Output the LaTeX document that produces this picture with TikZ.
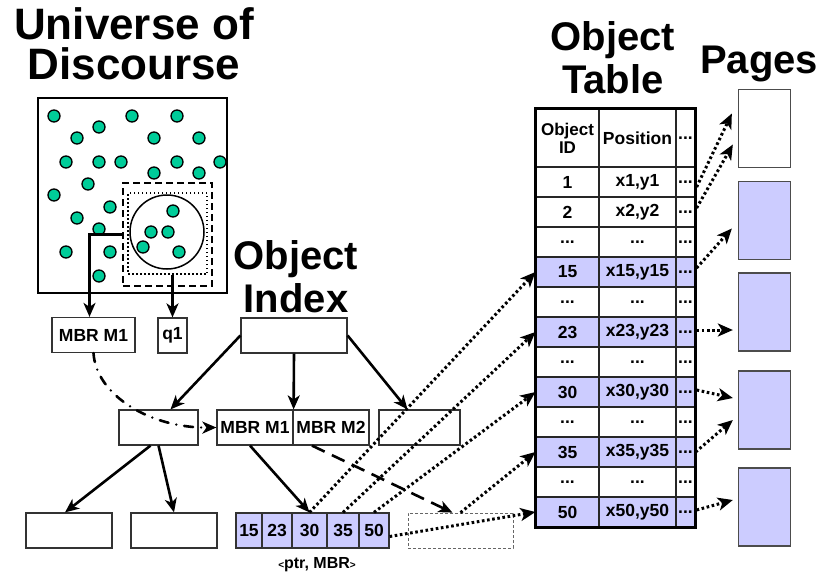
\documentclass[tikz,border=0pt]{standalone}
\usepackage{fontspec}
\setmainfont{Liberation Sans}
\usetikzlibrary{arrows.meta, calc}
\definecolor{objgreen}{HTML}{00CC99}
\definecolor{lav}{HTML}{CCCCFF}
\newcommand\tdots{...}

\begin{document}
\begin{tikzpicture}[x=1pt, y=-1pt,
    title/.style={font=\fontsize{40}{43}\selectfont\bfseries, align=center, inner sep=0},
    box/.style={draw=black!80, line width=1.2pt, font=\fontsize{17.5}{19}\selectfont\bfseries, inner sep=0, minimum height=35},
    cell/.style={draw=black!85, line width=1.2pt, font=\fontsize{17.5}{19}\selectfont\bfseries, inner sep=0, minimum height=30},
    page/.style={draw=black!70, line width=1.3pt, minimum width=52, minimum height=78, inner sep=0},
    arr/.style={line width=2.6pt, -{Stealth[length=14pt, width=12pt, inset=4pt]}},
    dotarr/.style={line width=3pt, dash pattern=on 2.6pt off 2.6pt, -{Stealth[length=15pt, width=13pt, inset=4pt]}},
    obj/.style={draw=black, line width=1.3pt, fill=objgreen}]
    \useasboundingbox (0,0) rectangle (822,576);

    % Titles
    \node[title, font=\fontsize{44}{39.5}\selectfont\bfseries, anchor=base] (uod) at (134,79) {Universe of\\Discourse};
    \node[title, anchor=base] (oidx) at (296,312) {Object\\Index};
    \node[title, anchor=base] (otab) at (613,93) {Object\\Table};
    \node[title, anchor=base] (pgs) at (759,73) {Pages};

    % Universe of discourse
    \node[draw, line width=2pt, minimum width=189, minimum height=195, inner sep=0] (universe) at (132.5,195.5) {};
    \node[draw, line width=1.6pt, dash pattern=on 7pt off 4pt, minimum width=89, minimum height=103, inner sep=0] (mbrbox) at (167.5,234.5) {};
    \node[draw, line width=1.3pt, dash pattern=on 1.5pt off 2.5pt, minimum width=79, minimum height=81, inner sep=0] (qbox) at (167.5,233.5) {};
    \node[circle, draw, line width=1.5pt, minimum size=74, inner sep=0] (qcirc) at (167,232) {};
    \foreach \x/\y in {54/116, 132/116, 177/116, 99/127, 77/138, 154/138, 199/138,
        66/162, 99/162, 121/162, 177/162, 220/162, 154/173, 199/173, 88/184, 54/195,
        110/207, 77/218, 99/229, 66/252, 110/252, 99/276,
        173/211, 151/232, 168/232, 143/247, 179/252}
        \draw[obj] (\x,\y) circle[radius=6pt];

    % Object index
    \node[box, minimum width=83] (mbra) at (93.5,335) {MBR M1};
    \node[box, minimum width=29] (q1) at (172.5,335.5) {q1};
    \node[box, minimum width=106] (root) at (294,335.5) {};
    \node[box, minimum width=79] (nodeL) at (158.5,427.5) {};
    \node[box, minimum width=76] (mbr1) at (255,427.5) {MBR M1};
    \node[box, minimum width=76] (mbr2) at (331,427.5) {MBR M2};
    \node[box, minimum width=81] (nodeR) at (419.5,427.5) {};
    \node[box, minimum width=86] (leafA) at (69,530.5) {};
    \node[box, minimum width=86] (leafB) at (174,530.5) {};
    \node[box, fill=lav, minimum width=26] (leaf15) at (249,530.5) {15};
    \node[box, fill=lav, minimum width=30] (leaf23) at (277,530.5) {23};
    \node[box, fill=lav, minimum width=35] (leaf30) at (309.5,530.5) {30};
    \node[box, fill=lav, minimum width=32] (leaf35) at (343,530.5) {35};
    \node[box, fill=lav, minimum width=30] (leaf50) at (374,530.5) {50};
    \node[box, draw=black!60, line width=0.8pt, dash pattern=on 3pt off 2pt, minimum width=105] (leafD) at (460.5,530.5) {};
    \node[font=\fontsize{16}{18}\selectfont\bfseries, anchor=base] (ptr) at (317,568)
        {{\fontsize{10}{12}\selectfont<}ptr, MBR{\fontsize{10}{12}\selectfont>}};

    % Object table
    \node[cell, minimum width=63, minimum height=58, align=center, font=\fontsize{17}{18}\selectfont\bfseries] (hd-a) at (567.5,138) {Object\\ID};
    \node[cell, minimum width=77, minimum height=58] (hd-b) at (637.5,138) {Position};
    \node[cell, minimum width=19, minimum height=58] (hd-c) at (685.5,138) {...};
    \foreach \id/\pos/\f [count=\r] in {1/{x1,y1}/white, 2/{x2,y2}/white, \tdots/\tdots/white,
        15/{x15,y15}/lav, \tdots/\tdots/white, 23/{x23,y23}/lav, \tdots/\tdots/white,
        30/{x30,y30}/lav, \tdots/\tdots/white, 35/{x35,y35}/lav, \tdots/\tdots/white,
        50/{x50,y50}/lav} {
        \node[cell, fill=\f, minimum width=63] (r\r-a) at (567.5,152+30*\r) {\id};
        \node[cell, fill=\f, minimum width=77] (r\r-b) at (637.5,152+30*\r) {\pos};
        \node[cell, fill=\f, minimum width=19] (r\r-c) at (685.5,152+30*\r) {...};
    }
    \draw[line width=2.6pt] (hd-a.north west) rectangle (r12-c.south east);

    % Pages
    \node[page] (pg1) at (764.5,128.5) {};
    \node[page, fill=lav] (pg2) at (764.5,220.5) {};
    \node[page, fill=lav] (pg3) at (764.5,312) {};
    \node[page, fill=lav] (pg4) at (764.5,410) {};
    \node[page, fill=lav] (pg5) at (764.5,507) {};

    % MBR and query
    \draw[arr] (mbrbox.west) -| ($(mbra.north)+(-4,0)$);
    \draw[arr] (qbox.south -| q1.north) -- (q1.north);

    % Tree
    \draw[arr] (root.west) -- ($(nodeL.north)+(12,0)$);
    \draw[arr] (root.south) -- (mbr1.north east);
    \draw[arr] (root.east) -- ($(nodeR.north)+(-12,0)$);
    \draw[arr] ($(nodeL.south)+(-8,0)$) -- ($(leafA.north)+(-4,0)$);
    \draw[arr] (nodeL.south) -- (leafB.north);
    \draw[arr] ($(mbr1.south)+(-5,0)$) -- (leaf30.north);
    \draw[arr, dash pattern=on 14pt off 8pt] ($(mbr2.south)+(-19,0)$) -- ($(leafD.north)+(-8,0)$);
    \draw[arr, line cap=round, dash pattern=on 9pt off 8pt on 0pt off 8pt] (mbra.south) .. controls (96,395) and (150,428) .. (mbr1.west);

    % Pointers into the table
    \draw[dotarr] (leaf30.north) -- (r4-a.west);
    \draw[dotarr] (leaf35.north) -- (r6-a.west);
    \draw[dotarr] (leaf50.north) -- (r8-a.west);
    \draw[dotarr] (leafD.north) -- (r10-a.west);
    \draw[dotarr] ($(leaf50.east)+(0,6)$) -- (r12-a.west);

    % Table to pages
    \draw[dotarr] ($(r1-c.east)+(1,5)$) -- ($(pg1.west)+(-6,-15)$);
    \draw[dotarr] ($(r2-c.east)+(1,-4)$) -- ($(pg1.west)+(-5,16)$);
    \draw[dotarr] ($(r4-c.east)+(1,-4)$) -- ($(pg2.west)+(-6,8)$);
    \draw[dotarr] ($(r6-c.east)+(1,-2)$) -- ($(pg3.west)+(-5,18)$);
    \draw[dotarr] ($(r8-c.east)+(1,-2)$) -- ($(pg4.west)+(-5,-12)$);
    \draw[dotarr] (r10-c.east) -- ($(pg4.west)+(-5,10)$);
    \draw[dotarr] ($(r12-c.east)+(1,-2)$) -- ($(pg5.west)+(-5,-7)$);
\end{tikzpicture}
\end{document}
